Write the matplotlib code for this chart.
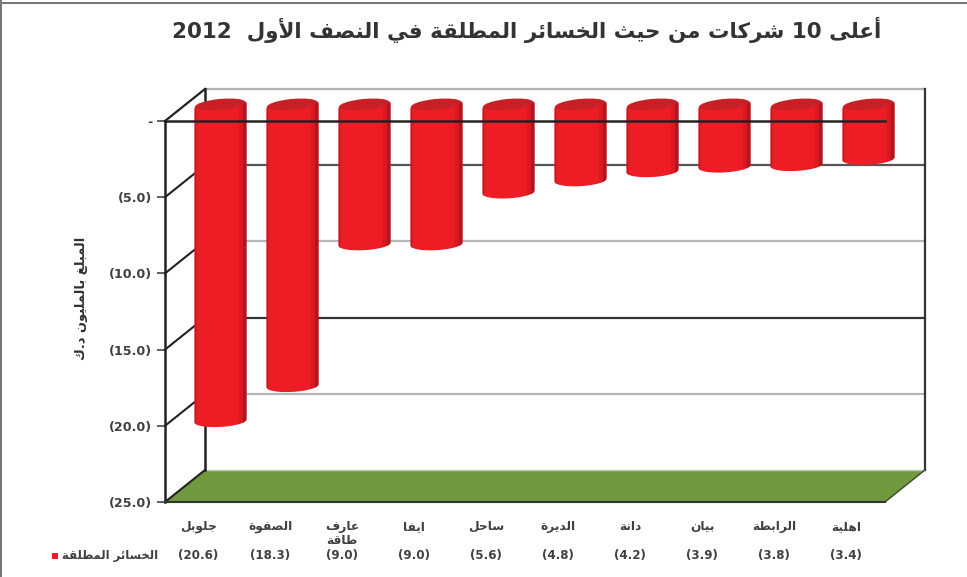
import matplotlib
matplotlib.use("Agg")
import matplotlib.pyplot as plt
import numpy as np
from matplotlib.patches import Ellipse, Polygon, Rectangle
from matplotlib.transforms import IdentityTransform, blended_transform_factory

# logical order arabic, shaped below since matplotlib has no shaping
title = "أعلى 10 شركات من حيث الخسائر المطلقة في النصف الأول  2012"
ylabel = "المبلغ بالمليون د.ك"
series_name = "الخسائر المطلقة"
companies = ["جلوبل", "الصفوة", "عارف\nطاقة", "ايفا", "ساحل", "الديرة", "دانة", "بيان", "الرابطة", "اهلية"]
losses = [20.6, 18.3, 9.0, 9.0, 5.6, 4.8, 4.2, 3.9, 3.8, 3.4]
ytick_values = [0, -5, -10, -15, -20, -25]
ytick_labels = ["-", "(5.0)", "(10.0)", "(15.0)", "(20.0)", "(25.0)"]
grid_colors = ["#555555", "#b5b5b5", "#333333", "#b5b5b5"]

two = {"ا": 0xFE8D, "أ": 0xFE83, "ة": 0xFE93, "د": 0xFEA9, "ذ": 0xFEAB, "ر": 0xFEAD, "ز": 0xFEAF, "و": 0xFEED, "ى": 0xFEEF}
four = {"ئ": 0xFE89, "ب": 0xFE8F, "ت": 0xFE95, "ث": 0xFE99, "ج": 0xFE9D, "ح": 0xFEA1, "خ": 0xFEA5, "س": 0xFEB1,
        "ش": 0xFEB5, "ص": 0xFEB9, "ض": 0xFEBD, "ط": 0xFEC1, "ظ": 0xFEC5, "ع": 0xFEC9, "غ": 0xFECD, "ف": 0xFED1,
        "ق": 0xFED5, "ك": 0xFED9, "ل": 0xFEDD, "م": 0xFEE1, "ن": 0xFEE5, "ه": 0xFEE9, "ي": 0xFEF1}


def shape_word(w):
    if w.isdigit() or not w:
        return w
    out = []
    i = 0
    prev_joins = False
    while i < len(w):
        c = w[i]
        nxt = w[i + 1] if i + 1 < len(w) else ""
        if c == "ل" and nxt in ("ا", "أ"):
            base = 0xFEFB if nxt == "ا" else 0xFEF7
            out.append(chr(base + (1 if prev_joins else 0)))
            prev_joins = False
            i += 2
            continue
        if c in two:
            out.append(chr(two[c] + (1 if prev_joins else 0)))
            prev_joins = False
        elif c in four:
            next_ok = nxt in two or nxt in four
            if prev_joins and next_ok:
                form = 3
            elif prev_joins:
                form = 1
            elif next_ok:
                form = 2
            else:
                form = 0
            out.append(chr(four[c] + form))
            prev_joins = next_ok
        else:
            out.append(c)
            prev_joins = False
        i += 1
    return "".join(reversed(out))


def ar(s):
    lines = []
    for line in s.split("\n"):
        lines.append(" ".join(shape_word(w) for w in reversed(line.split(" "))))
    return "\n".join(lines)


plt.rcParams["font.family"] = "DejaVu Sans"
fig = plt.figure(figsize=(9.67, 5.77), dpi=100)
W, H = 967.0, 577.0
ax = fig.add_axes([165 / W, 1 - 502 / H, 720 / W, 381 / H])
ax.set_xlim(-0.5, 9.5)
ax.set_ylim(-25, 0)
ax.patch.set_alpha(0)
px_x = 720 / 10.0
px_y = 381 / 25.0
dx = 40 / px_x
dy = 32 / px_y
x0, x1 = -0.5, 9.5
ymin = -25

# floor
ax.add_patch(Polygon([(x0, ymin), (x1, ymin), (x1 + dx, ymin + dy), (x0 + dx, ymin + dy)],
                     facecolor="#70983c", edgecolor="none", clip_on=False, zorder=1))

# back wall and side walls
for v, col in zip(ytick_values[1:-1], grid_colors):
    ax.plot([x0, x0 + dx], [v, v + dy], color="#222222", lw=1.5, clip_on=False, zorder=2)
    ax.plot([x0 + dx, x1 + dx], [v + dy, v + dy], color=col, lw=1.6, clip_on=False, zorder=2)
ax.plot([x0 + dx, x1 + dx], [dy, dy], color="#b0b0b0", lw=1.6, clip_on=False, zorder=2)
ax.plot([x0 + dx, x1 + dx], [ymin + dy, ymin + dy], color="#c4c8b0", lw=1.0, clip_on=False, zorder=2)
ax.plot([x0, x0 + dx], [0, dy], color="#222222", lw=1.6, clip_on=False, zorder=2)
ax.plot([x0, x0 + dx], [ymin, ymin + dy], color="#222222", lw=1.5, clip_on=False, zorder=2)
ax.plot([x0 + dx, x0 + dx], [dy, ymin + dy], color="#222222", lw=1.8, clip_on=False, zorder=2)
ax.plot([x1 + dx, x1 + dx], [dy, ymin + dy], color="#333333", lw=1.6, clip_on=False, zorder=2)
ax.plot([x1, x1 + dx], [ymin, ymin + dy], color="#3a4a28", lw=1.0, clip_on=False, zorder=2)

# cylinders, bottom and top edges are tilted ellipse arcs
half_w = 26 / px_x
shift_x = 19 / px_x
base_y = 14.5 / px_y
lid_y = 15.5 / px_y
sag = 6 / px_y
lid_h = 6.5 / px_y
low_slope = 1.5 / px_y
lid_slope = 2.5 / px_y


def draw_part(cx, v, t0, t1, color, alpha, z):
    t = np.linspace(t0, t1, 80)
    arc = np.sqrt(1 - t ** 2)
    low = base_y - v + low_slope * t - sag * arc
    up = lid_y + lid_slope * t + lid_h * arc
    ax.fill_between(cx + half_w * t, low, up, color=color, alpha=alpha, lw=0, zorder=z, clip_on=False)


for i, v in enumerate(losses):
    cx = i + shift_x
    draw_part(cx, v, -1, 1, "#ee1c25", 1, 3)
    draw_part(cx, v, 0.86, 1, "#a8141b", 0.85, 3.1)
    draw_part(cx, v, 0.7, 0.86, "#a8141b", 0.3, 3.1)
    draw_part(cx, v, -1, -0.93, "#a8141b", 0.5, 3.1)
    lid_c = ax.transData.transform((cx, lid_y))
    ax.add_patch(Ellipse((lid_c[0], lid_c[1] + 1), 50, 11, angle=5.5, facecolor="#c92026", edgecolor="none", zorder=3.3,
                         transform=IdentityTransform(), clip_on=False))

# front zero line goes over the cylinders
ax.plot([x0, x1], [0, 0], color="#222222", lw=1.8, clip_on=False, zorder=5)
ax.plot([x0, x1], [ymin, ymin], color="#333333", lw=1.5, clip_on=False, zorder=5)

for s in ["top", "right", "bottom"]:
    ax.spines[s].set_visible(False)
ax.spines["left"].set_color("#222222")
ax.spines["left"].set_linewidth(1.8)
ax.set_xticks([])
ax.set_yticks(ytick_values)
ax.set_yticklabels(ytick_labels, fontsize=9.2, fontweight="bold", color="#404040")
ax.tick_params(axis="y", length=6, width=1.2, color="#444444", pad=3)

# category and value rows under the floor
tr = blended_transform_factory(ax.transData, ax.transAxes)
for i, (name, v) in enumerate(zip(companies, losses)):
    ax.text(i - 0.04, -(520 - 502) / 381, ar(name), transform=tr, ha="center", va="top",
            fontsize=8.8, fontweight="bold", color="#404040", linespacing=1.1)
    ax.text(i - 0.04, -(556 - 502) / 381, "(%.1f)" % v, transform=tr, ha="center", va="center",
            fontsize=8.6, fontweight="bold", color="#404040")

fig.text(158 / W, 1 - 555 / H, ar(series_name), ha="right", va="center", fontsize=8.4, fontweight="bold", color="#404040")
fig.patches.append(Rectangle((52 / W, 1 - 559 / H), 6 / W, 6 / H, transform=fig.transFigure, facecolor="#ee1c25", edgecolor="none"))

fig.text(81 / W, 1 - 298 / H, ar(ylabel), rotation=90, ha="center", va="center", fontsize=9.4, fontweight="bold", color="#303030")
fig.text(527 / W, 1 - 30 / H, ar(title), ha="center", va="center", fontsize=15.4, fontweight="bold", color="#333333")

# picture frame, top and left
fig.patches.append(Rectangle((0, 1 - 4 / H), 1, 2 / H, transform=fig.transFigure, facecolor="#777777", edgecolor="none"))
fig.patches.append(Rectangle((0, 0), 2 / W, 1, transform=fig.transFigure, facecolor="#777777", edgecolor="none"))

fig.savefig("out.png", dpi=100)
